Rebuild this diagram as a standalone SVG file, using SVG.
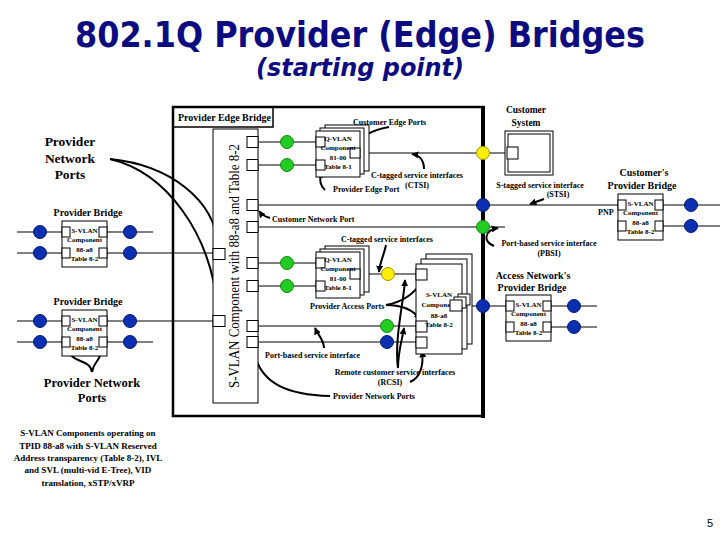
<svg xmlns="http://www.w3.org/2000/svg" xmlns:xlink="http://www.w3.org/1999/xlink" width="720" height="540" viewBox="0 0 720 540">
<style>
.ln{stroke:#000;stroke-width:1;fill:none}
.box{fill:#fff;stroke:#000;stroke-width:1}
.ar{stroke:#000;stroke-width:2;fill:none;marker-end:url(#ah)}
.g{fill:#22cc22;stroke:#118811;stroke-width:1}
.b{fill:#0a2fb0;stroke:#061a70;stroke-width:1}
.y{fill:#ffee00;stroke:#999900;stroke-width:1}
.t{font-family:"Liberation Serif","Times New Roman",serif;font-weight:bold;fill:#000}
.s{font-size:8px}
.m{font-size:10px}
.tiny{font-size:7px}
.c{text-anchor:middle}
</style>
<defs>
<marker id="ah" viewBox="0 0 10 10" refX="9" refY="5" markerWidth="7" markerHeight="7" orient="auto" markerUnits="userSpaceOnUse"><path d="M0,0 L10,5 L0,10 z" fill="#000"/></marker>
<g id="sb">
<rect class="box" x="0" y="0" width="45" height="46"/>
<rect class="box" x="0" y="6" width="8" height="10"/>
<rect class="box" x="37" y="6" width="8" height="10"/>
<rect class="box" x="0" y="27" width="8" height="10"/>
<rect class="box" x="37" y="27" width="8" height="10"/>
<text class="t tiny c" x="22.5" y="12">S-VLAN</text>
<text class="t tiny c" x="22.5" y="21">Component</text>
<text class="t tiny c" x="22.5" y="31">88-a8</text>
<text class="t tiny c" x="22.5" y="40">Table 8-2</text>
</g>
<g id="qv">
<rect class="box" x="9" y="-6" width="44" height="46"/>
<rect class="box" x="4" y="-3" width="44" height="46"/>
<rect class="box" x="0" y="0" width="44" height="46"/>
<rect class="box" x="0" y="6" width="9" height="10"/>
<rect class="box" x="0" y="29" width="9" height="10"/>
<rect class="box" x="34" y="17" width="10" height="10"/>
<text class="t tiny c" x="22" y="10">Q-VLAN</text>
<text class="t tiny c" x="22" y="19">Component</text>
<text class="t tiny c" x="22" y="29">81-00</text>
<text class="t tiny c" x="22" y="38">Table 8-1</text>
</g>
</defs>
<rect x="0" y="0" width="720" height="540" fill="#fff"/>
<g id="title">
<text x="360" y="47" text-anchor="middle" font-family="DejaVu Sans, Verdana, sans-serif" font-weight="bold" font-size="36" fill="#0c0c80" textLength="570" lengthAdjust="spacingAndGlyphs">802.1Q Provider (Edge) Bridges</text>
<text x="360" y="76" text-anchor="middle" font-family="DejaVu Sans, Verdana, sans-serif" font-weight="bold" font-style="italic" font-size="24" fill="#0c0c80" textLength="208" lengthAdjust="spacingAndGlyphs">(starting point)</text>
</g>
<g id="peb">
<rect x="173" y="107" width="310" height="309" fill="none" stroke="#000" stroke-width="2.5"/>
<line x1="483" y1="106" x2="483" y2="418" stroke="#000" stroke-width="4"/>
<rect x="173" y="107" width="100" height="20" fill="none" stroke="#000" stroke-width="1.5"/>
<text class="t m" x="178" y="121">Provider Edge Bridge</text>
</g>
<g id="connectors">
<line class="ln" x1="259" y1="142" x2="316" y2="142"/>
<line class="ln" x1="259" y1="165" x2="316" y2="165"/>
<line class="ln" x1="360" y1="153" x2="507" y2="153"/>
<line class="ln" x1="259" y1="205" x2="618" y2="205"/>
<line class="ln" x1="259" y1="227" x2="505" y2="227"/>
<line class="ln" x1="259" y1="263" x2="316" y2="263"/>
<line class="ln" x1="259" y1="286" x2="316" y2="286"/>
<line class="ln" x1="360" y1="274" x2="416" y2="274"/>
<line class="ln" x1="259" y1="326" x2="416" y2="326"/>
<line class="ln" x1="259" y1="342" x2="416" y2="342"/>
<line class="ln" x1="462" y1="306" x2="506" y2="306"/>
<line class="ln" x1="17" y1="232" x2="62" y2="232"/>
<line class="ln" x1="107" y1="232" x2="153" y2="232"/>
<line class="ln" x1="17" y1="253" x2="62" y2="253"/>
<line class="ln" x1="107" y1="253" x2="213" y2="253"/>
<line class="ln" x1="17" y1="321" x2="62" y2="321"/>
<line class="ln" x1="107" y1="321" x2="213" y2="321"/>
<line class="ln" x1="17" y1="342" x2="62" y2="342"/>
<line class="ln" x1="107" y1="342" x2="153" y2="342"/>
<line class="ln" x1="663" y1="205" x2="720" y2="205"/>
<line class="ln" x1="663" y1="226" x2="720" y2="226"/>
<line class="ln" x1="551" y1="306" x2="597" y2="306"/>
<line class="ln" x1="551" y1="327" x2="597" y2="327"/>
<path class="ar" d="M110,159 C170,165 215,200 218,246"/>
<path class="ar" d="M110,159 C165,172 212,232 218,313"/>
<path class="ar" d="M92,372 C90,358 70,364 69,349"/>
<path class="ar" d="M92,372 C94,360 101,362 101,349"/>
<path class="ar" d="M389,127 C372,130 360,136 357,147"/>
<path class="ar" d="M424,169 C424,160 419,155 412,154"/>
<path class="ar" d="M325,190 C320,186 319,180 321,171"/>
<path class="ar" d="M270,218 C266,217 262,215 259,211"/>
<path class="ar" d="M386,245 C384,255 380,262 379,272"/>
<path class="ar" d="M386,305 C402,302 414,295 422,281"/>
<path class="ar" d="M386,305 C402,305 414,310 420,320"/>
<path class="ar" d="M398,368 C394,340 404,300 405,280"/>
<path class="ar" d="M398,368 C398,352 402,340 404,328"/>
<path class="ar" d="M410,382 C420,378 424,366 422,351"/>
<path class="ar" d="M324,348 C324,340 318,335 315,328"/>
<path class="ar" d="M330,396 C290,395 260,385 254,351"/>
<path class="ar" d="M544,199 L530,204"/>
<path class="ar" d="M494,246 C482,241 485,230 498,228"/>
</g>
<g id="svlan-main">
<rect class="box" x="213" y="129" width="45" height="274"/>
<rect class="box" x="213" y="248.5" width="12" height="11"/>
<rect class="box" x="213" y="315.5" width="12" height="11"/>
<rect class="box" x="247" y="136.5" width="11" height="11"/>
<rect class="box" x="247" y="159.5" width="11" height="11"/>
<rect class="box" x="247" y="199.5" width="11" height="11"/>
<rect class="box" x="247" y="221.5" width="11" height="11"/>
<rect class="box" x="247" y="257.5" width="11" height="11"/>
<rect class="box" x="247" y="280.5" width="11" height="11"/>
<rect class="box" x="247" y="320.5" width="11" height="11"/>
<rect class="box" x="247" y="336.5" width="11" height="11"/>
<text transform="translate(239,266) rotate(-90)" text-anchor="middle" font-family="Liberation Serif, Times New Roman, serif" font-size="14" textLength="244" lengthAdjust="spacingAndGlyphs">S-VLAN Component with 88-a8 and Table 8-2</text>
</g>
<g id="qvlan1"><use xlink:href="#qv" x="316" y="131"/></g>
<g id="qvlan2"><use xlink:href="#qv" x="316" y="252"/></g>
<g id="svlan-stack">
<rect class="box" x="426" y="254" width="46" height="90"/>
<rect class="box" x="421" y="259" width="46" height="90"/>
<rect class="box" x="416" y="264" width="46" height="90"/>
<rect class="box" x="416" y="269" width="11" height="11"/>
<rect class="box" x="416" y="321" width="11" height="11"/>
<rect class="box" x="416" y="337" width="11" height="11"/>
<text class="t tiny c" x="439" y="297">S-VLAN</text>
<text class="t tiny c" x="439" y="307">Component</text>
<text class="t tiny c" x="439" y="318">88-a8</text>
<text class="t tiny c" x="439" y="327">Table 8-2</text>
<rect class="box" x="458" y="294" width="12" height="11"/>
<rect class="box" x="454" y="297" width="12" height="11"/>
<rect class="box" x="450" y="300" width="12" height="11"/>
</g>
<g id="pb1">
<text class="t m c" x="88" y="216">Provider Bridge</text>
<use xlink:href="#sb" x="62" y="221"/>
</g>
<g id="pb2">
<text class="t m c" x="88" y="305">Provider Bridge</text>
<use xlink:href="#sb" x="62" y="310"/>
</g>
<g id="customer-pb">
<text class="t m c" x="644" y="176">Customer's</text>
<text class="t m c" x="642" y="189">Provider Bridge</text>
<use xlink:href="#sb" x="618" y="194"/>
<text class="t s" x="598" y="215">PNP</text>
</g>
<g id="access-pb">
<text class="t m c" x="533" y="279">Access Network's</text>
<text class="t m c" x="532" y="291">Provider Bridge</text>
<use xlink:href="#sb" x="506" y="295"/>
</g>
<g id="customer-system">
<text class="t c" font-size="9.5" x="526" y="113">Customer</text>
<text class="t c" font-size="9.5" x="526" y="126">System</text>
<rect class="box" x="505" y="131" width="48" height="44"/>
<rect class="box" x="508" y="134" width="42" height="38"/>
<rect class="box" x="507" y="147" width="11" height="12"/>
</g>
<g id="circles">
<circle class="g" cx="287" cy="142" r="6.5"/>
<circle class="g" cx="287" cy="165" r="6.5"/>
<circle class="g" cx="287" cy="263" r="6.5"/>
<circle class="g" cx="287" cy="286" r="6.5"/>
<circle class="g" cx="387" cy="326" r="6.5"/>
<circle class="b" cx="387" cy="342" r="6.5"/>
<circle class="y" cx="388" cy="274" r="6.5"/>
<circle class="y" cx="483" cy="153" r="6.5"/>
<circle class="b" cx="483" cy="205" r="6.5"/>
<circle class="g" cx="483" cy="227" r="6.5"/>
<circle class="b" cx="483" cy="306" r="6.5"/>
<circle class="b" cx="40" cy="232" r="6.5"/>
<circle class="b" cx="40" cy="253" r="6.5"/>
<circle class="b" cx="130" cy="232" r="6.5"/>
<circle class="b" cx="130" cy="253" r="6.5"/>
<circle class="b" cx="40" cy="321" r="6.5"/>
<circle class="b" cx="40" cy="342" r="6.5"/>
<circle class="b" cx="130" cy="321" r="6.5"/>
<circle class="b" cx="130" cy="342" r="6.5"/>
<circle class="b" cx="691" cy="205" r="6.5"/>
<circle class="b" cx="691" cy="226" r="6.5"/>
<circle class="b" cx="574" cy="306" r="6.5"/>
<circle class="b" cx="574" cy="327" r="6.5"/>
</g>
<g id="labels">
<text class="t c" font-size="13.5" x="70" y="146">Provider</text>
<text class="t c" font-size="13.5" x="70" y="163">Network</text>
<text class="t c" font-size="13.5" x="70" y="179">Ports</text>
<text class="t c" font-size="12.5" x="92" y="387">Provider Network</text>
<text class="t c" font-size="12.5" x="92" y="402">Ports</text>
<text class="t s" x="353" y="125">Customer Edge Ports</text>
<text class="t s c" x="417" y="178">C-tagged service interfaces</text>
<text class="t s c" x="417" y="188">(CTSI)</text>
<text class="t s" x="333" y="192">Provider Edge Port</text>
<text class="t s" x="272" y="222">Customer Network Port</text>
<text class="t s" x="341" y="242">C-tagged service interfaces</text>
<text class="t s" x="310" y="309">Provider Access Ports</text>
<text class="t s" x="265" y="358">Port-based service interface</text>
<text class="t s c" x="395" y="375">Remote customer service interfaces</text>
<text class="t s c" x="390" y="385">(RCSI)</text>
<text class="t s" x="333" y="399">Provider Network Ports</text>
<text class="t s c" x="540" y="188">S-tagged service interface</text>
<text class="t s c" x="558" y="197">(STSI)</text>
<text class="t s c" x="549" y="246">Port-based service interface</text>
<text class="t s c" x="549" y="256">(PBSI)</text>
<g class="t c" font-size="9">
<text x="88" y="436">S-VLAN Components operating on</text>
<text x="88" y="449">TPID 88-a8 with S-VLAN Reserved</text>
<text x="88" y="461">Address transparency (Table 8-2), IVL</text>
<text x="88" y="473">and SVL (multi-vid E-Tree), VID</text>
<text x="88" y="486">translation, xSTP/xVRP</text>
</g>
<text x="707" y="527" font-family="Liberation Sans, Arial, sans-serif" font-size="11" fill="#000">5</text>
</g>
</svg>
